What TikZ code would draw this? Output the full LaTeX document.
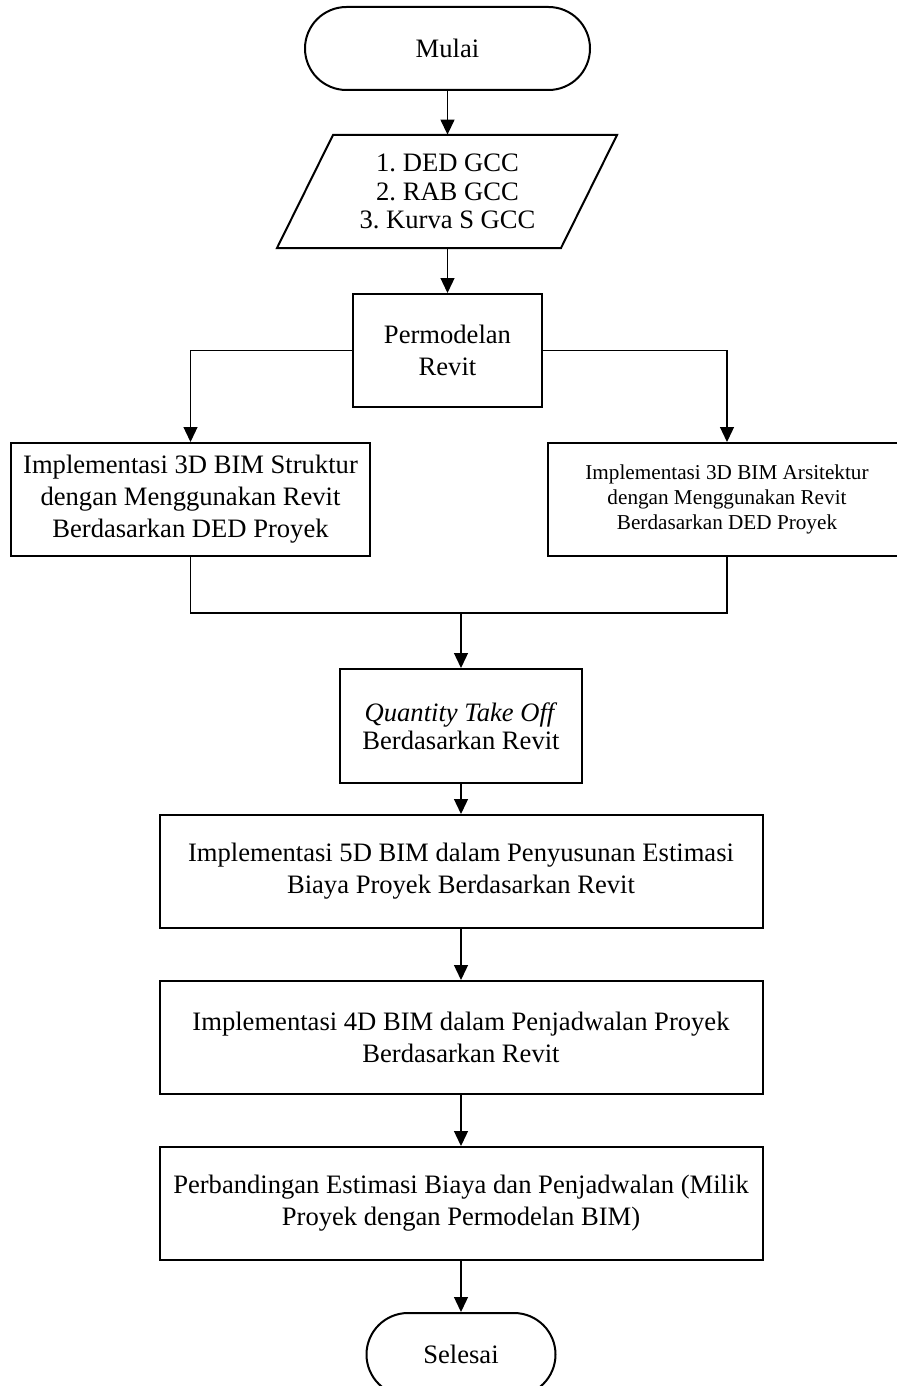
\documentclass[tikz,border=0pt]{standalone}
\usepackage{fontspec}
\setmainfont{Liberation Serif}
\usetikzlibrary{arrows.meta,shapes.misc}
\frenchspacing
\begin{document}
\begin{tikzpicture}[x=0.5pt,y=-0.5pt,
  box/.style={draw,line width=1pt,rectangle,inner sep=0pt,align=center,font=\fontsize{13.3}{16}\selectfont},
  term/.style={draw,line width=1pt,rounded rectangle,inner sep=0pt,font=\fontsize{13.3}{16}\selectfont},
  conn/.style={line width=0.65pt},
  arr/.style={conn,-{Triangle[length=7.5pt,width=7pt]}}]
\useasboundingbox[fill=white] (0,0) rectangle (897,1386);
% start
\node[term,minimum width=142.5pt,minimum height=41.5pt] (mulai) at (447.5,48.5) {Mulai};
% input parallelogram
\draw[line width=1pt,line join=miter] (333,135) -- (617,135) -- (561,248) -- (277,248) -- cycle;
\node[align=center,inner sep=0pt,minimum height=56.5pt,font=\fontsize{13.3}{14.2}\selectfont] (input) at (447.5,191.5) {1. DED GCC\\2. RAB GCC\\3. Kurva S GCC};
% modelling
\node[box,minimum width=94.5pt,minimum height=56.5pt] (perm) at (447.5,350.5) {Permodelan\\Revit};
% 3D boxes
\node[box,minimum width=179.5pt,minimum height=56.5pt] (str) at (190.5,499.5) {Implementasi 3D BIM Struktur\\dengan Menggunakan Revit\\Berdasarkan DED Proyek};
\node[box,minimum width=179pt,minimum height=56.5pt,font=\fontsize{10.6}{12.5}\selectfont] (ars) at (727,499.5) {Implementasi 3D BIM Arsitektur\\dengan Menggunakan Revit\\Berdasarkan DED Proyek};
% QTO
\node[box,minimum width=121pt,minimum height=57pt,font=\fontsize{13.3}{14}\selectfont] (qto) at (461,726) {\textit{Quantity Take Off}\\Berdasarkan Revit};
% 5D, 4D, comparison
\node[box,minimum width=301.5pt,minimum height=56.5pt] (d5) at (461,871.5) {Implementasi 5D BIM dalam Penyusunan Estimasi\\Biaya Proyek Berdasarkan Revit};
\node[box,minimum width=301.5pt,minimum height=56.5pt] (d4) at (461,1037.5) {Implementasi 4D BIM dalam Penjadwalan Proyek\\Berdasarkan Revit};
\node[box,minimum width=301.5pt,minimum height=56.5pt] (cmp) at (461,1203.5) {Perbandingan Estimasi Biaya dan Penjadwalan (Milik\\Proyek dengan Permodelan BIM)};
% end
\node[term,minimum width=94.5pt,minimum height=41.5pt] (end) at (461,1354.5) {Selesai};
% connectors
\coordinate (merge) at (461,613);
\draw[arr] (mulai.south) -- (input.north);
\draw[arr] (input.south) -- (perm.north);
\draw[arr] (perm.west) -| (str.north);
\draw[arr] (perm.east) -| (ars.north);
\draw[conn] (str.south) |- (merge);
\draw[conn] (ars.south) |- (merge);
\draw[arr] (merge) -- (qto.north);
\draw[arr] (qto.south) -- (d5.north);
\draw[arr] (d5.south) -- (d4.north);
\draw[arr] (d4.south) -- (cmp.north);
\draw[arr] (cmp.south) -- (end.north);
\end{tikzpicture}
\end{document}
